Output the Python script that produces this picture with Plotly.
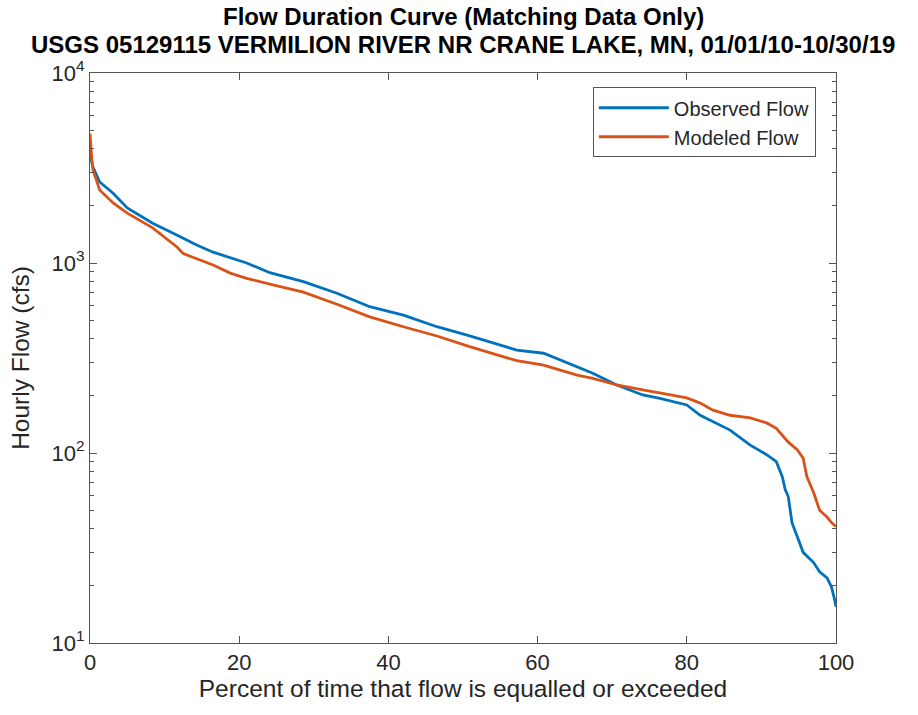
import plotly.graph_objects as go

# Flow duration data: percent of time exceeded vs hourly flow (cfs)
obs_pct = [0, 0.2, 0.4, 1.3, 3.1, 5.0, 8.4, 11.7, 14.3, 16.5, 18.8, 21.0, 24.1, 28.6,
           33.1, 37.5, 42.0, 46.5, 50.9, 54.0, 57.2, 60.8, 63.0, 65.3, 67.4, 70.6,
           74.1, 76.4, 77.3, 80.0, 81.8, 83.5, 85.8, 88.5, 90.7, 92.0, 92.8, 93.2,
           93.6, 94.1, 94.8, 95.6, 97.0, 97.8, 98.8, 99.4, 99.8, 100]
obs_flow = [3700, 3400, 3200, 2670, 2330, 1950, 1620, 1400, 1245, 1140, 1070, 1000, 889, 798,
            693, 589, 532, 462, 413, 378, 348, 335, 309, 285, 263, 228,
            202, 194, 190, 179, 158, 146, 132, 110, 98, 90, 75, 64,
            59, 43, 36, 30, 26.5, 23.7, 22, 19.7, 17, 15.5]

mod_pct = [0, 0.1, 0.25, 0.4, 1.3, 3.1, 5.0, 8.4, 11.7, 12.5, 16.5, 18.8, 21.0, 24.1, 28.6,
           33.1, 37.5, 42.0, 46.5, 50.9, 54.0, 57.2, 60.8, 63.0, 65.3, 67.4, 70.6,
           74.1, 76.4, 77.3, 80.0, 81.8, 83.5, 85.8, 88.5, 90.7, 92.0, 93.6, 94.8,
           95.6, 96.1, 97.0, 97.8, 98.8, 99.4, 100]
mod_flow = [4800, 4000, 3480, 3090, 2420, 2070, 1830, 1530, 1210, 1120, 977, 885, 830, 775, 702,
            607, 521, 462, 413, 363, 335, 306, 290, 273, 257, 247, 228,
            215, 208, 204, 195, 183, 168, 158, 153, 144, 135, 114, 104,
            94, 75, 62, 50, 46, 43, 41]

x_ticks = [0, 20, 40, 60, 80, 100]
y_ticks = [10, 100, 1000, 10000]
y_tick_text = ["10<sup>1</sup>", "10<sup>2</sup>", "10<sup>3</sup>", "10<sup>4</sup>"]
y_minor = [m * d for d in (10, 100, 1000) for m in range(2, 10)]

FONT = "Liberation Sans, Arial, Helvetica, sans-serif"
AX = "#555555"
TXT = "#262626"
TICK_SIZE = 22
LABEL_SIZE = 24.5
TITLE_SIZE = 24
LEGEND_SIZE = 20

fig = go.Figure()
fig.add_trace(go.Scatter(x=obs_pct, y=obs_flow, mode="lines", name="Observed Flow",
                         line=dict(color="#0072BD", width=2.8)))
fig.add_trace(go.Scatter(x=mod_pct, y=mod_flow, mode="lines", name="Modeled Flow",
                         line=dict(color="#D95319", width=2.8)))

fig.update_layout(
    width=918, height=715,
    margin=dict(l=90, r=82, t=73, b=72),
    paper_bgcolor="white", plot_bgcolor="white",
    font=dict(family=FONT, color=TXT),
    showlegend=True,
    legend=dict(x=0.973, y=0.975, xanchor="right", yanchor="top",
                bgcolor="white", bordercolor=AX, borderwidth=1,
                font=dict(size=LEGEND_SIZE, color=TXT), itemwidth=70,
                tracegroupgap=0),
    annotations=[
        dict(text="<b>Flow Duration Curve (Matching Data Only)</b>",
             x=0.5, y=1 + (73 - 17) / 570, yanchor="middle",
             xref="paper", yref="paper", showarrow=False,
             font=dict(size=TITLE_SIZE, color="black")),
        dict(text="<b>USGS 05129115 VERMILION RIVER NR CRANE LAKE, MN, 01/01/10-10/30/19</b>",
             x=0.5, y=1 + (73 - 44) / 570, yanchor="middle",
             xref="paper", yref="paper", showarrow=False,
             font=dict(size=TITLE_SIZE, color="black")),
    ],
)

fig.update_xaxes(
    range=[0, 100], tickvals=x_ticks, ticks="inside", ticklen=7, tickcolor=AX,
    showline=True, linecolor=AX, linewidth=1, mirror="allticks", showgrid=False,
    zeroline=False, tickfont=dict(size=TICK_SIZE, color=TXT),
    title=dict(text="Percent of time that flow is equalled or exceeded",
               font=dict(size=LABEL_SIZE, color=TXT), standoff=4),
)
fig.update_yaxes(
    type="log", range=[1, 4], tickvals=y_ticks, ticktext=y_tick_text,
    ticks="inside", ticklen=7, tickcolor=AX,
    minor=dict(tickvals=y_minor, ticks="inside", ticklen=4, tickcolor=AX, showgrid=False),
    showline=True, linecolor=AX, linewidth=1, mirror="allticks", showgrid=False,
    zeroline=False, tickfont=dict(size=TICK_SIZE, color=TXT),
    title=dict(text="Hourly Flow (cfs)", font=dict(size=LABEL_SIZE, color=TXT), standoff=14),
)

fig.write_html("out.html")
